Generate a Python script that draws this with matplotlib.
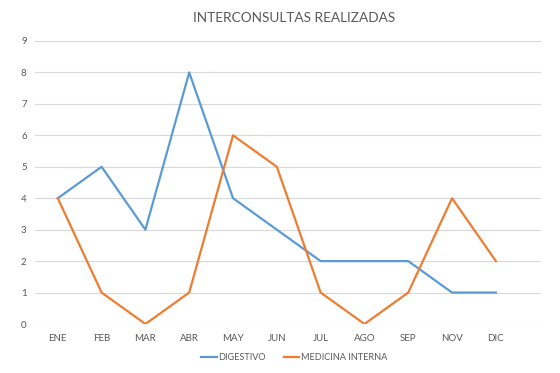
import matplotlib
matplotlib.use("Agg")
import matplotlib.pyplot as plt

months = ["ENE", "FEB", "MAR", "ABR", "MAY", "JUN", "JUL", "AGO", "SEP", "NOV", "DIC"]
digestivo = [4, 5, 3, 8, 4, 3, 2, 2, 2, 1, 1]
medicina_interna = [4, 1, 0, 1, 6, 5, 1, 0, 1, 4, 2]
title = "INTERCONSULTAS REALIZADAS"

plt.rcParams['font.family'] = ['Lato', 'DejaVu Sans']
txt = '#595959'

fig = plt.figure(figsize=(5.6, 3.73), dpi=100)
ax = fig.add_axes([35/560, 1-324/373, 506/560, (324-41)/373])
x = list(range(len(months)))
ax.plot(x, digestivo, color='#5B9BD5', lw=1.6, label='DIGESTIVO')
ax.plot(x, medicina_interna, color='#ED7D31', lw=1.6, label='MEDICINA INTERNA')
ax.set_xlim(-0.52, len(months) + 0.03)
ax.set_ylim(0, 9)
ax.set_yticks(range(0, 10))
ax.set_xticks(x)
ax.set_xticklabels(months)
ax.grid(axis='y', color='#D9D9D9', lw=0.8)
ax.set_axisbelow(True)
for s in ax.spines.values():
    s.set_visible(False)
ax.tick_params(length=0, labelsize=7, colors=txt, pad=7)
ax.tick_params(axis='y', pad=6)
fig.text(294/560, 1-18/373, title, ha='center', va='center', fontsize=9.8, color=txt)
leg = fig.legend(loc='center', bbox_to_anchor=(294/560, 1-358/373), ncol=2, frameon=False,
                 fontsize=6.6, handlelength=1.7, handletextpad=0.15, columnspacing=2.0)
for t in leg.get_texts():
    t.set_color(txt)
fig.savefig('out.png', dpi=100)
